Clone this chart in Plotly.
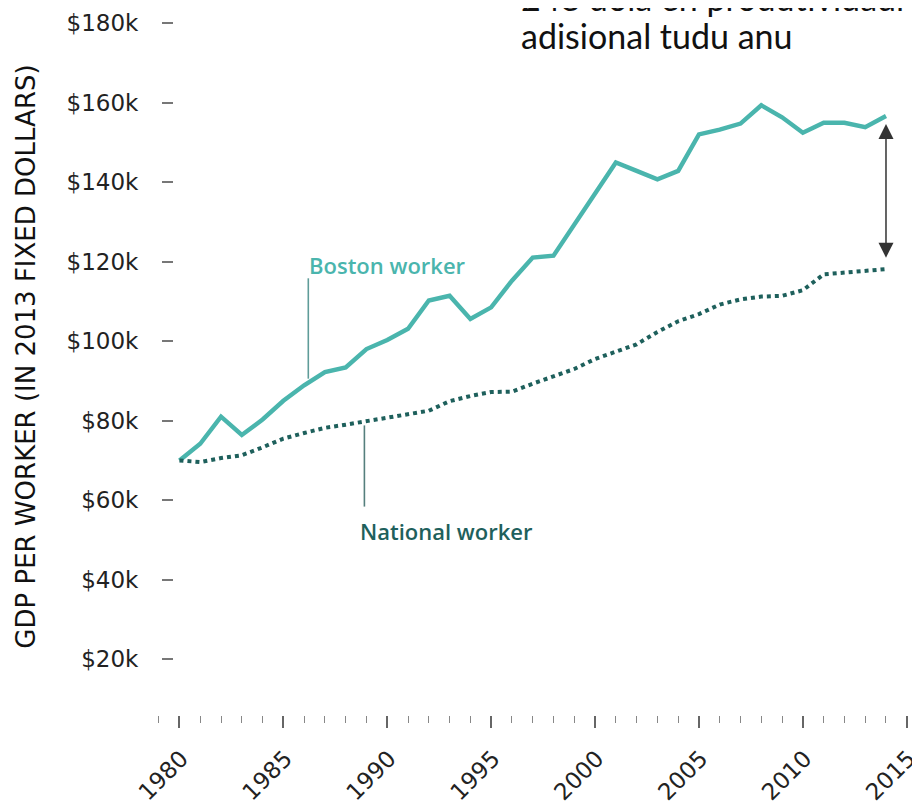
import numpy as np
import plotly.graph_objects as go

# ---- data (thousands of 2013 dollars) ----
years = list(range(1980, 2015))
boston_k = [70.0, 74.2, 81.0, 76.4, 80.3, 85.0, 88.9, 92.2, 93.4, 98.0,
            100.3, 103.1, 110.2, 111.4, 105.6, 108.5, 115.2, 121.0, 121.5, 129.2,
            137.0, 144.9, 142.8, 140.7, 142.8, 152.0, 153.2, 154.7, 159.3, 156.3,
            152.4, 154.9, 154.9, 153.8, 156.6]
national_k = [70.0, 69.6, 70.6, 71.3, 73.3, 75.5, 76.9, 78.2, 79.0, 79.9,
              80.7, 81.5, 82.5, 84.9, 86.2, 87.2, 87.3, 89.3, 91.2, 93.0,
              95.5, 97.3, 99.2, 102.3, 105.0, 106.8, 109.2, 110.5, 111.2, 111.4,
              112.8, 116.8, 117.3, 117.8, 118.1]
ytick_vals = [20, 40, 60, 80, 100, 120, 140, 160, 180]
ytick_text = ["$20k", "$40k", "$60k", "$80k", "$100k", "$120k", "$140k", "$160k", "$180k"]
series_names = ["Boston worker", "National worker"]
y_title = "GDP PER WORKER (IN 2013 FIXED DOLLARS)"
note_lines = ["248 dola en produtividadi", "adisional tudu anu"]

BOSTON = "#4ab5ad"
NATIONAL = "#1e605c"
W, H = 920, 810
OFF = 8  # page body margin of the html page
PLOT_L, PLOT_R, PLOT_T, PLOT_B = 156.6, 913.0, 14.7, 715.0  # screen pixels
ML = 0
MR = W - (PLOT_R - OFF)
MT = PLOT_T - OFF
MB = H - (PLOT_B - OFF)
PW = W - ML - MR
PH = H - MT - MB


def px_x(p):
    return (p - OFF) / PW


def px_y(p):
    return (PLOT_B - p) / PH


fig = go.Figure()
fig.add_trace(go.Scatter(x=years, y=boston_k, mode="lines", name=series_names[0],
                         line=dict(color=BOSTON, width=4.4), hoverinfo="skip"))
fig.add_trace(go.Scatter(x=years, y=national_k, mode="lines", name=series_names[1],
                         line=dict(color=NATIONAL, width=4, dash="4px,4px"), hoverinfo="skip"))

# leader lines from the labels to the series
bx = 1986.2
fig.add_shape(type="line", x0=bx, x1=bx, y0=float(np.interp(bx, years, boston_k)) + 1.0, y1=115.8,
              line=dict(color="#5f9c99", width=1.6))
nx = 1988.9
fig.add_shape(type="line", x0=nx, x1=nx, y0=float(np.interp(nx, years, national_k)) - 1.0, y1=58.4,
              line=dict(color="#557f7d", width=1.6))

label_font = dict(family="Open Sans", size=22, weight=600)
fig.add_annotation(x=1990.0, y=119.1, text=series_names[0], showarrow=False,
                   font=dict(color=BOSTON, **label_font), xanchor="center", yanchor="middle")
fig.add_annotation(x=1992.84, y=52.2, text=series_names[1], showarrow=False,
                   font=dict(color=NATIONAL, **label_font), xanchor="center", yanchor="middle")

# double-headed gap arrow at the last year
fig.add_annotation(x=years[-1], y=boston_k[-1], ax=years[-1], ay=national_k[-1],
                   xref="x", yref="y", axref="x", ayref="y", text="", showarrow=True,
                   arrowhead=2, startarrowhead=2, arrowside="end+start", arrowsize=2,
                   startarrowsize=2, arrowwidth=1.5, arrowcolor="#333",
                   standoff=8, startstandoff=10)

# y axis title
fig.add_annotation(xref="paper", yref="paper", x=px_x(26), y=px_y(356.5), text=y_title,
                   textangle=-90, showarrow=False, xanchor="center", yanchor="middle",
                   font=dict(family="DejaVu Sans", size=26, color="#111"))

# top-right note (partly cut off by the top edge)
note_font = dict(family="Lato", size=34, color="#111")
fig.add_annotation(xref="paper", yref="paper", x=px_x(519), y=px_y(-3), text=note_lines[0],
                   showarrow=False, xanchor="left", yanchor="middle", font=note_font)
fig.add_annotation(xref="paper", yref="paper", x=px_x(519), y=px_y(35.5), text=note_lines[1],
                   showarrow=False, xanchor="left", yanchor="middle", font=note_font)

fig.update_layout(
    width=W, height=H,
    margin=dict(l=ML, r=MR, t=MT, b=MB),
    plot_bgcolor="white", paper_bgcolor="white",
    showlegend=False,
    xaxis=dict(domain=[px_x(PLOT_L), 1], range=[1978.9, 2015.3],
               tickmode="linear", tick0=1980, dtick=5,
               ticks="outside", ticklen=12, tickwidth=1.5, tickcolor="#666",
               showgrid=False, zeroline=False, showline=False, tickangle=-45,
               tickfont=dict(family="DejaVu Sans", size=23, color="#222"),
               ticklabelstandoff=8, ticklabelshift=2,
               minor=dict(tick0=1980, dtick=1, ticks="outside", ticklen=7, tickwidth=1.2,
                          tickcolor="#888", showgrid=False),
               automargin=False),
    yaxis=dict(anchor="free", position=px_x(173), range=[6, 182],
               tickmode="array", tickvals=ytick_vals, ticktext=ytick_text,
               ticks="outside", ticklen=11, tickwidth=1.5, tickcolor="#777",
               showgrid=False, zeroline=False, showline=False,
               tickfont=dict(family="DejaVu Sans", size=23, color="#222"),
               ticklabelstandoff=19, automargin=False),
)

fig.write_html("out.html")
